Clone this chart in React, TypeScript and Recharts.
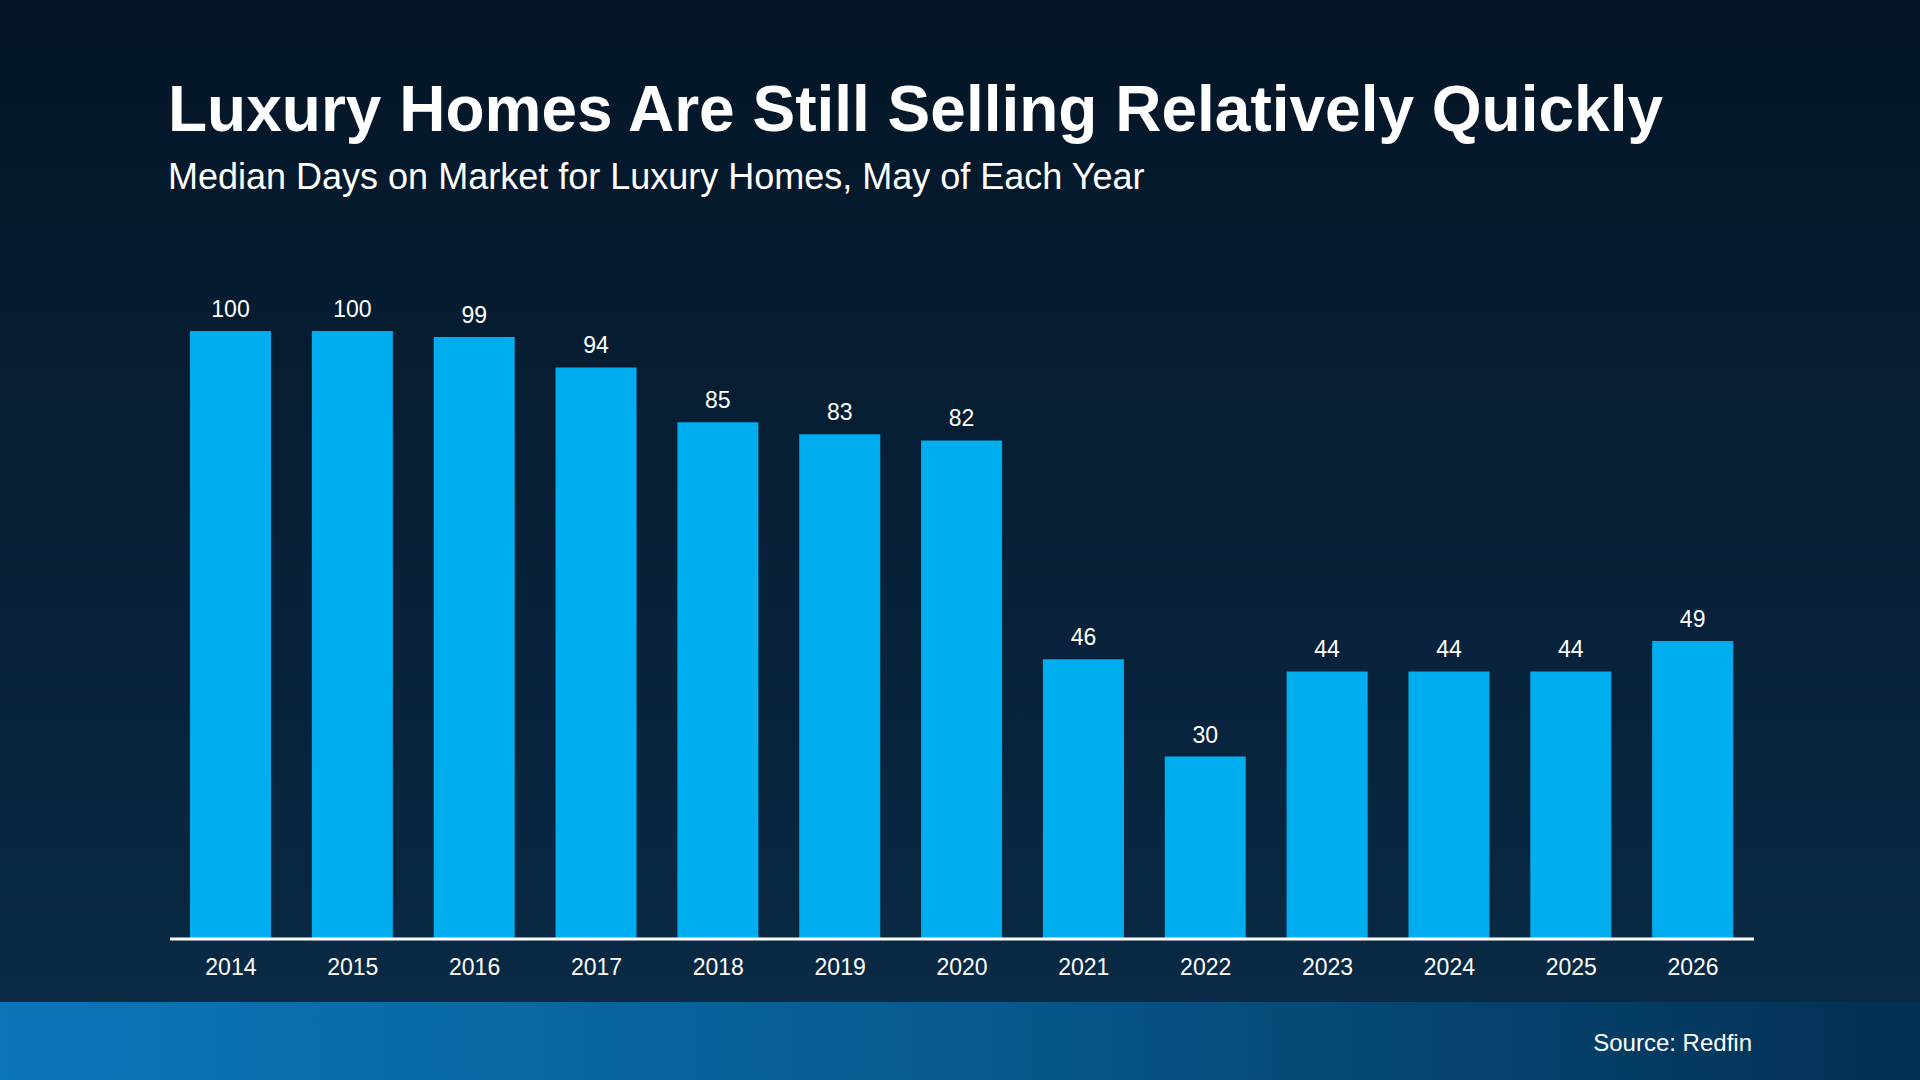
import React from 'react';
import { BarChart, Bar, XAxis, YAxis, LabelList } from 'recharts';

const years = ['2014', '2015', '2016', '2017', '2018', '2019', '2020', '2021', '2022', '2023', '2024', '2025', '2026'];
const days = [100, 100, 99, 94, 85, 83, 82, 46, 30, 44, 44, 44, 49];

const data = years.map((year, i) => ({ year, days: days[i] }));

const font = '"Liberation Sans", Arial, sans-serif';

export default function App() {
  return (
    <div style={{ position: 'absolute', left: 0, top: 0, width: 1920, height: 1080, overflow: 'hidden', fontFamily: font, background: 'linear-gradient(180deg, #041627 0%, #0a2b47 100%)' }}>
      <div style={{ position: 'absolute', left: 168, top: 77, color: '#fff', fontSize: 64, fontWeight: 700, lineHeight: 1 }}>
        Luxury Homes Are Still Selling Relatively Quickly
      </div>
      <div style={{ position: 'absolute', left: 168, top: 159, color: '#fff', fontSize: 36, lineHeight: 1 }}>
        Median Days on Market for Luxury Homes, May of Each Year
      </div>
      <div style={{ position: 'absolute', left: 0, top: 0 }}>
        <BarChart width={1920} height={1002} data={data} margin={{ top: 331, right: 166, left: 170, bottom: 0 }}>
          <XAxis dataKey="year" height={63} axisLine={{ stroke: '#ffffff', strokeWidth: 3 }} tickLine={false}
            tick={{ fill: '#ffffff', fontSize: 23, fontFamily: font }} dy={12} />
          <YAxis hide domain={[0, 100]} />
          <Bar dataKey="days" fill="#00aeef" barSize={81} isAnimationActive={false}>
            <LabelList dataKey="days" position="top" offset={14} fill="#ffffff" fontSize={23} fontFamily={font} />
          </Bar>
        </BarChart>
      </div>
      <div style={{ position: 'absolute', left: 0, top: 1002, width: 1920, height: 78, background: 'linear-gradient(90deg, #0b76b9 0%, #075a8f 50%, #032f52 100%)' }}>
        <div style={{ position: 'absolute', right: 168, top: 27, color: '#fff', fontSize: 24 }}>Source: Redfin</div>
      </div>
    </div>
  );
}
